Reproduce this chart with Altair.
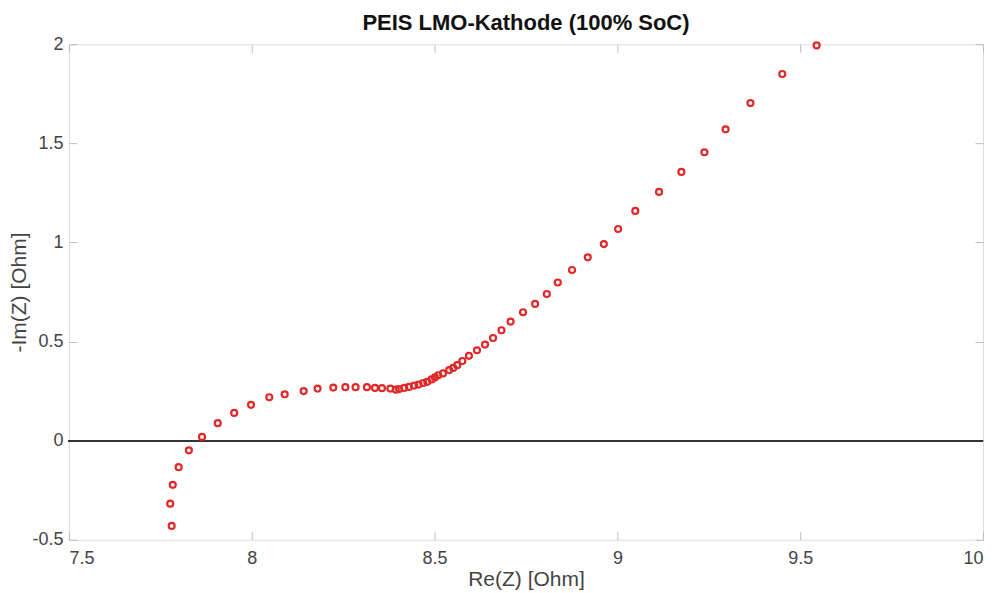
import altair as alt
import pandas as pd

re_z = [7.781, 7.777, 7.784, 7.800, 7.828, 7.864, 7.907, 7.952, 7.998, 8.048,
        8.090, 8.142, 8.180, 8.223, 8.256, 8.284, 8.315, 8.337, 8.356, 8.379,
        8.394, 8.403, 8.417, 8.430, 8.444, 8.456, 8.469, 8.480, 8.492, 8.501,
        8.510, 8.523, 8.540, 8.551, 8.562, 8.576, 8.594, 8.616, 8.638, 8.660,
        8.683, 8.708, 8.742, 8.775, 8.807, 8.837, 8.876, 8.919, 8.963, 9.002,
        9.049, 9.114, 9.175, 9.238, 9.296, 9.364, 9.451, 9.545]
neg_im_z = [-0.430, -0.318, -0.223, -0.134, -0.049, 0.019, 0.088, 0.140, 0.181, 0.219,
            0.234, 0.250, 0.263, 0.268, 0.270, 0.270, 0.270, 0.266, 0.265, 0.263,
            0.257, 0.260, 0.266, 0.271, 0.278, 0.283, 0.291, 0.297, 0.309, 0.319,
            0.330, 0.339, 0.356, 0.367, 0.381, 0.402, 0.428, 0.456, 0.485, 0.518,
            0.557, 0.601, 0.648, 0.690, 0.740, 0.798, 0.861, 0.925, 0.992, 1.068,
            1.159, 1.255, 1.356, 1.455, 1.571, 1.703, 1.850, 1.994]

x_ticks = [7.5, 8, 8.5, 9, 9.5, 10]
y_ticks = [-0.5, 0, 0.5, 1, 1.5, 2]

df = pd.DataFrame({"re": re_z, "im": neg_im_z})

TICK = 8
FONT = "Liberation Sans"
tick_color = "#bdbdbd"
label_color = "#444444"

xscale = alt.Scale(domain=[7.5, 10], nice=False, zero=False)
yscale = alt.Scale(domain=[-0.5, 2], nice=False, zero=False)

base_axis = dict(domain=False, grid=False, ticks=True, tickSize=TICK, offset=-TICK,
                 tickColor=tick_color, tickWidth=1, labelFont=FONT, labelFontSize=18,
                 labelColor=label_color, titleFont=FONT, titleFontSize=21,
                 titleColor=label_color, titleFontWeight="normal",
                 labelExpr="toString(datum.value)")

points = alt.Chart(df).mark_point(
    shape="circle", filled=False, color="#e02828", size=36, strokeWidth=2.2, opacity=1
).encode(
    x=alt.X("re:Q", scale=xscale,
            axis=alt.Axis(values=x_ticks, title="Re(Z) [Ohm]", orient="bottom",
                          labelPadding=10, titlePadding=1, **base_axis)),
    y=alt.Y("im:Q", scale=yscale,
            axis=alt.Axis(values=y_ticks, title="-Im(Z) [Ohm]", orient="left",
                          labelPadding=6, titlePadding=2, **base_axis)),
)

frame_axes = alt.Chart(df).mark_point(opacity=0).encode(
    x=alt.X("re:Q", scale=xscale,
            axis=alt.Axis(values=x_ticks, orient="top", labels=False, title=None,
                          domain=False, grid=False, tickSize=TICK, offset=-TICK,
                          tickColor=tick_color, tickWidth=1)),
    y=alt.Y("im:Q", scale=yscale,
            axis=alt.Axis(values=y_ticks, orient="right", labels=False, title=None,
                          domain=False, grid=False, tickSize=TICK, offset=-TICK,
                          tickColor=tick_color, tickWidth=1)),
)

zero_line = alt.Chart(df).mark_rule(color="#333333", strokeWidth=1.5).encode(
    y=alt.YDatum(0, scale=yscale, axis=None)
)

chart = alt.layer(frame_axes, zero_line, points).resolve_axis(
    x="independent", y="independent"
).properties(
    width=915, height=496,
    title=alt.Title("PEIS LMO-Kathode (100% SoC)", font=FONT, fontSize=22,
                    fontWeight="bold", color="#111111", anchor="middle", offset=0),
    autosize=alt.AutoSizeParams(type="none"),
    padding={"left": 61, "top": 36, "right": 4, "bottom": 50},
).configure_view(
    stroke="#bfbfbf", strokeWidth=1
).configure(background="white")

chart.save("out.html", embed_options={"renderer": "svg", "actions": False})
